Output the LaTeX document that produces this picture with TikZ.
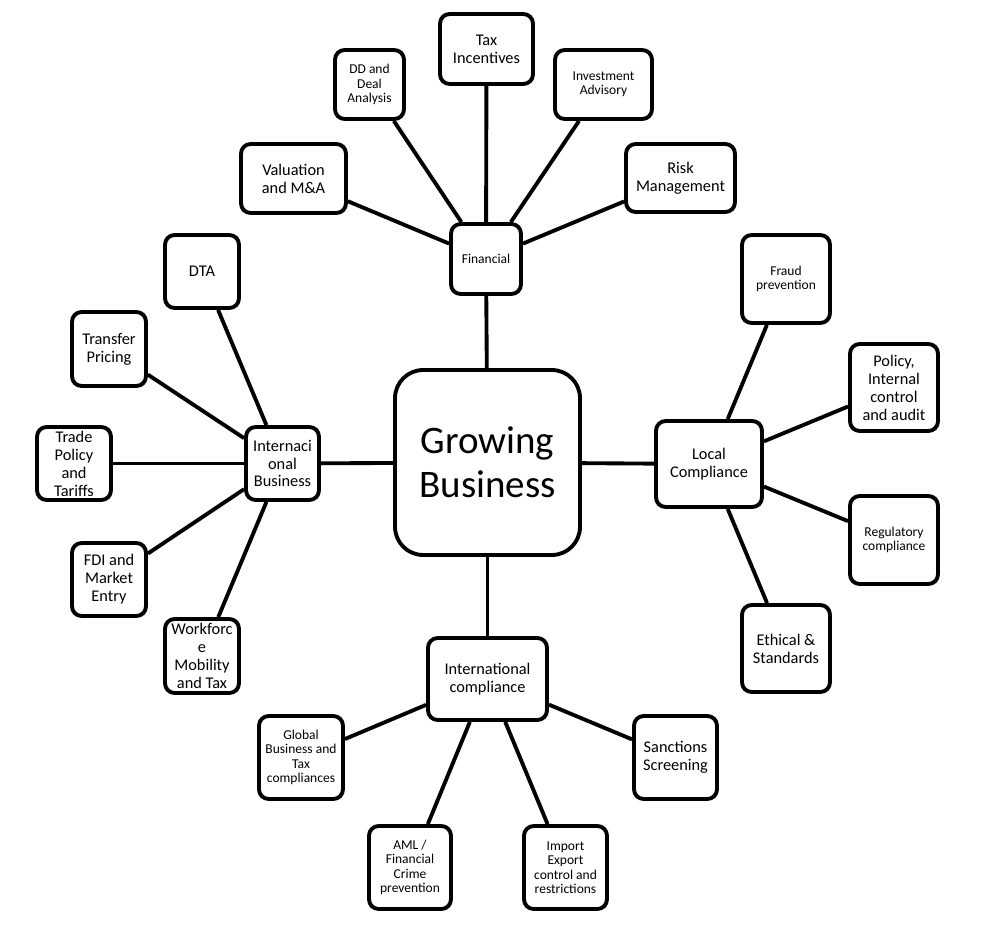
\documentclass[tikz,border=0pt]{standalone}
\usepackage{fontspec}
\setmainfont{Carlito}

\tikzset{
  box/.style={draw, line width=2.2pt, rounded corners=5.5pt, align=center,
    inner sep=1pt, font=\fontsize{9.3}{10.2}\selectfont},
  smallbox/.style={box, font=\fontsize{7.7}{8.2}\selectfont},
  hub/.style={box, rounded corners=16pt, font=\fontsize{22.2}{25}\selectfont},
  link/.style={line width=2.2pt}
}

\begin{document}
\begin{tikzpicture}[x=0.02cm, y=-0.02cm]
  \useasboundingbox (0,0) rectangle (993,927);

  % Define nodes
  \node[hub, minimum width=3.7cm, minimum height=3.7cm] (gb) at (487.5,462.5) {Growing\\Business};

  \node[smallbox, minimum width=1.4cm, minimum height=1.4cm]   (fin)  at (486,259)     {Financial};
  \node[box, minimum width=1.86cm, minimum height=1.4cm]       (tax)  at (486.5,49)    {Tax\\Incentives};
  \node[smallbox, minimum width=1.38cm, minimum height=1.38cm] (dd)   at (369.5,84.5)  {DD and\\Deal\\Analysis};
  \node[smallbox, minimum width=1.94cm, minimum height=1.38cm] (inv)  at (603.5,84.5)  {Investment\\Advisory};
  \node[box, minimum width=2.1cm, minimum height=1.38cm]       (val)  at (293.5,178.5) {Valuation\\and M\&A};
  \node[box, minimum width=2.18cm, minimum height=1.36cm]      (risk) at (680.5,178)   {Risk\\Management};

  \node[box, minimum width=1.46cm, minimum height=1.46cm] (ib)    at (282.5,463.5) {Internaci\\onal\\Business};
  \node[box, minimum width=1.48cm, minimum height=1.46cm] (dta)   at (202,271.5)   {DTA};
  \node[box, minimum width=1.48cm, minimum height=1.48cm] (tp)    at (109,349)     {Transfer\\Pricing};
  \node[box, minimum width=1.48cm, minimum height=1.46cm] (trade) at (74,463.5)    {Trade\\Policy\\and\\Tariffs};
  \node[box, minimum width=1.48cm, minimum height=1.46cm] (fdi)   at (109,579.5)   {FDI and\\Market\\Entry};
  \node[box, minimum width=1.48cm, minimum height=1.48cm] (wf)    at (202,656)     {Workforc\\e\\Mobility\\and Tax};

  \node[box, minimum width=2.12cm, minimum height=1.72cm]      (lc)    at (709,464)    {Local\\Compliance};
  \node[smallbox, minimum width=1.76cm, minimum height=1.76cm] (fraud) at (786,279)    {Fraud\\prevention};
  \node[box, minimum width=1.76cm, minimum height=1.74cm]      (pol)   at (894,387.5)  {Policy,\\Internal\\control\\and audit};
  \node[smallbox, minimum width=1.76cm, minimum height=1.76cm] (reg)   at (894,540)    {Regulatory\\compliance};
  \node[box, minimum width=1.76cm, minimum height=1.74cm]      (eth)   at (786,648.5)  {Ethical \&\\Standards};

  \node[box, minimum width=2.38cm, minimum height=1.64cm]      (ic)   at (487.5,679)   {International\\compliance};
  \node[smallbox, minimum width=1.68cm, minimum height=1.66cm] (glob) at (301,757.5)   {Global\\Business and\\Tax\\compliances};
  \node[box, minimum width=1.66cm, minimum height=1.66cm]      (sanc) at (675.5,757.5) {Sanctions\\Screening};
  \node[smallbox, minimum width=1.64cm, minimum height=1.66cm] (aml)  at (410,867.5)   {AML /\\Financial\\Crime\\prevention};
  \node[smallbox, minimum width=1.66cm, minimum height=1.66cm] (imp)  at (565.5,867.5) {Import\\Export\\control and\\restrictions};

  % Connect the nodes
  \draw[link] (gb) -- (fin);
  \draw[link] (gb) -- (ib);
  \draw[link] (gb) -- (lc);
  \draw[link] (gb) -- (ic);

  \draw[link] (fin) -- (tax);
  \draw[link] (fin) -- (dd);
  \draw[link] (fin) -- (inv);
  \draw[link] (fin) -- (val);
  \draw[link] (fin) -- (risk);

  \draw[link] (ib) -- (dta);
  \draw[link] (ib) -- (tp);
  \draw[link] (ib) -- (trade);
  \draw[link] (ib) -- (fdi);
  \draw[link] (ib) -- (wf);

  \draw[link] (lc) -- (fraud);
  \draw[link] (lc) -- (pol);
  \draw[link] (lc) -- (reg);
  \draw[link] (lc) -- (eth);

  \draw[link] (ic) -- (glob);
  \draw[link] (ic) -- (sanc);
  \draw[link] (ic) -- (aml);
  \draw[link] (ic) -- (imp);

\end{tikzpicture}
\end{document}
